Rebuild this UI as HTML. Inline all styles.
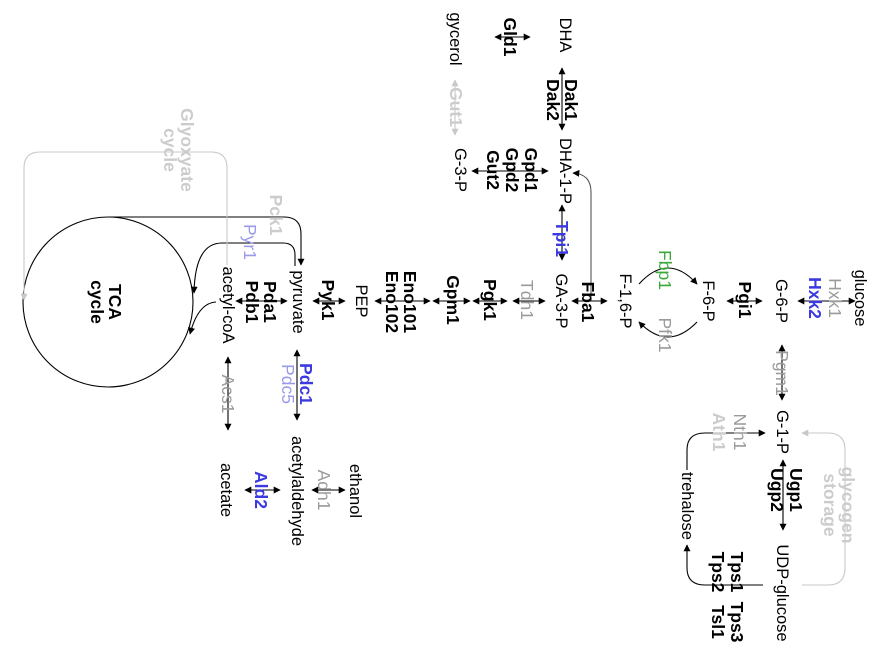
<!DOCTYPE html>
<html><head><meta charset="utf-8"><style>
html,body{margin:0;padding:0;background:#fff;}
svg{display:block;}
text{font-family:"Liberation Sans",Arial,sans-serif;font-size:16.5px;text-anchor:middle;dominant-baseline:central;fill:#000;}
.g{font-weight:bold;font-size:17.5px;}
.gr{fill:#9a9a9a;font-size:17.5px;}
.lg{fill:#cccccc;}
.bl{fill:#3a3ae0;}
.lb{fill:#9a9ae8;font-size:17.5px;}
.gn{fill:#3aa83a;font-size:17.5px;}
line,path{stroke:#000;stroke-width:1.1;fill:none;}
</style></head><body>
<svg width="888" height="657" viewBox="0 0 888 657" xmlns="http://www.w3.org/2000/svg">
<defs>
<marker id="a" viewBox="0 0 10 10" refX="9" refY="5" markerWidth="7" markerHeight="7" orient="auto-start-reverse" markerUnits="userSpaceOnUse"><path d="M0,0 L10,5 L0,10z" style="fill:#000;stroke:none"/></marker>
<marker id="ag" viewBox="0 0 10 10" refX="9" refY="5" markerWidth="7" markerHeight="7" orient="auto-start-reverse" markerUnits="userSpaceOnUse"><path d="M0,0 L10,5 L0,10z" style="fill:#c8c8c8;stroke:none"/></marker>
</defs>

<line x1="798" y1="301" x2="855" y2="301" marker-start="url(#a)" marker-end="url(#a)"/>
<line x1="727" y1="301" x2="762" y2="301" marker-start="url(#a)" marker-end="url(#a)"/>
<line x1="572" y1="301" x2="607" y2="301" marker-start="url(#a)" marker-end="url(#a)"/>
<line x1="513" y1="301" x2="545" y2="301" marker-start="url(#a)" marker-end="url(#a)"/>
<line x1="473" y1="301" x2="507" y2="301" marker-start="url(#a)" marker-end="url(#a)"/>
<line x1="433" y1="301" x2="470" y2="301" marker-start="url(#a)" marker-end="url(#a)"/>
<line x1="375" y1="301" x2="430" y2="301" marker-start="url(#a)" marker-end="url(#a)"/>
<line x1="313" y1="301" x2="345" y2="301" marker-start="url(#a)" marker-end="url(#a)"/>
<line x1="236" y1="301" x2="287" y2="301" marker-start="url(#a)" marker-end="url(#a)"/>

<path d="M639,284 Q668,252 697,284" marker-end="url(#a)"/>
<path d="M697,322 Q668,352 639,322" marker-end="url(#a)"/>

<path d="M591,300 L591,192 Q591,174 573,173" style="stroke:#555" marker-end="url(#a)"/>

<line x1="562" y1="68" x2="562" y2="130" marker-start="url(#a)" marker-end="url(#a)"/>
<line x1="495" y1="37" x2="530" y2="37" marker-start="url(#a)" marker-end="url(#a)"/>
<line x1="472" y1="171" x2="548" y2="171" marker-start="url(#a)" marker-end="url(#a)"/>
<line x1="455" y1="80" x2="455" y2="135" style="stroke:#c8c8c8" marker-start="url(#ag)" marker-end="url(#ag)"/>
<line x1="562" y1="205" x2="562" y2="260" marker-start="url(#a)" marker-end="url(#a)"/>

<line x1="297" y1="350" x2="297" y2="420" marker-start="url(#a)" marker-end="url(#a)"/>
<line x1="228" y1="357" x2="228" y2="430" marker-start="url(#a)" marker-end="url(#a)"/>
<line x1="312" y1="490" x2="345" y2="490" marker-start="url(#a)" marker-end="url(#a)"/>
<line x1="245" y1="490" x2="280" y2="490" marker-start="url(#a)" marker-end="url(#a)"/>

<line x1="782" y1="345" x2="782" y2="400" marker-start="url(#a)" marker-end="url(#a)"/>
<line x1="783" y1="460" x2="783" y2="530" marker-start="url(#a)" marker-end="url(#a)"/>
<path d="M687,470 L687,450 Q687,433 705,433 L765,433" marker-end="url(#a)"/>
<path d="M763,585 L705,585 Q687,585 687,568 L687,545" marker-end="url(#a)"/>
<path d="M802,585 L828,585 Q845,585 845,568 L845,450 Q845,433 828,433 L802,433" style="stroke:#c8c8c8" marker-end="url(#ag)"/>

<circle cx="108" cy="302" r="85" style="fill:none;stroke:#000;stroke-width:1.1"/>
<path d="M108,217 L284,217 Q301,217 301,234 L301,265" marker-end="url(#a)"/>
<path d="M295,266 L295,255 Q295,243 283,243 L222,243 Q195,243 194,293" marker-end="url(#a)"/>
<path d="M216,302 Q198,303 190,334" marker-end="url(#a)"/>
<path d="M227,265 L227,168 Q227,152 211,152 L40,152 Q24,152 24,168 L24,300" style="stroke:#c8c8c8" marker-end="url(#ag)"/>

<text x="860" y="298" transform="rotate(90 860 298)">glucose</text>
<text x="781" y="301" transform="rotate(90 781 301)">G-6-P</text>
<text x="708" y="301" transform="rotate(90 708 301)">F-6-P</text>
<text x="625" y="301" transform="rotate(90 625 301)">F-1,6-P</text>
<text x="561" y="301" transform="rotate(90 561 301)">GA-3-P</text>
<text x="361" y="301" transform="rotate(90 361 301)">PEP</text>
<text x="298" y="302" transform="rotate(90 298 302)">pyruvate</text>
<text x="228" y="305" transform="rotate(90 228 305)">acetyl-coA</text>
<text x="297" y="491" transform="rotate(90 297 491)">acetylaldehyde</text>
<text x="355" y="491" transform="rotate(90 355 491)">ethanol</text>
<text x="226" y="490" transform="rotate(90 226 490)">acetate</text>
<text x="565" y="35" transform="rotate(90 565 35)">DHA</text>
<text x="455" y="39" transform="rotate(90 455 39)">gycerol</text>
<text x="565" y="171" transform="rotate(90 565 171)">DHA-1-P</text>
<text x="460" y="170" transform="rotate(90 460 170)">G-3-P</text>
<text x="782" y="432" transform="rotate(90 782 432)">G-1-P</text>
<text x="687" y="506" transform="rotate(90 687 506)">trehalose</text>
<text x="782" y="593" transform="rotate(90 782 593)">UDP-glucose</text>

<text x="835" y="298" transform="rotate(90 835 298)" class="gr">Hxk1</text>
<text x="815" y="298" transform="rotate(90 815 298)" class="g bl">Hxk2</text>
<text x="745" y="300" transform="rotate(90 745 300)" class="g">Pgi1</text>
<text x="665" y="270" transform="rotate(90 665 270)" class="gn">Fbp1</text>
<text x="665" y="335" transform="rotate(90 665 335)" class="gr">Pfk1</text>
<text x="588" y="302" transform="rotate(90 588 302)" class="g">Fba1</text>
<text x="527" y="300" transform="rotate(90 527 300)" class="gr">Tdh1</text>
<text x="490" y="300" transform="rotate(90 490 300)" class="g">Pgk1</text>
<text x="453" y="300" transform="rotate(90 453 300)" class="g">Gpm1</text>
<text x="410" y="302" transform="rotate(90 410 302)" class="g">Eno101</text>
<text x="392" y="302" transform="rotate(90 392 302)" class="g">Eno102</text>
<text x="328" y="300" transform="rotate(90 328 300)" class="g">Pyk1</text>
<text x="270" y="302" transform="rotate(90 270 302)" class="g">Pda1</text>
<text x="252" y="302" transform="rotate(90 252 302)" class="g">Pdb1</text>
<text x="306" y="384" transform="rotate(90 306 384)" class="g bl">Pdc1</text>
<text x="288" y="384" transform="rotate(90 288 384)" class="lb">Pdc5</text>
<text x="228" y="394" transform="rotate(90 228 394)" class="gr">Acs1</text>
<text x="324" y="490" transform="rotate(90 324 490)" class="gr">Adh1</text>
<text x="261" y="490" transform="rotate(90 261 490)" class="g bl">Ald2</text>
<text x="276" y="215" transform="rotate(90 276 215)" class="g lg">Pck1</text>
<text x="250" y="242" transform="rotate(90 250 242)" class="lb">Pyr1</text>
<text x="187" y="150" transform="rotate(90 187 150)" class="g lg">Glyoxyate</text>
<text x="170" y="150" transform="rotate(90 170 150)" class="g lg">cycle</text>
<text x="115" y="302" transform="rotate(90 115 302)" class="g">TCA</text>
<text x="97" y="302" transform="rotate(90 97 302)" class="g">cycle</text>
<text x="510" y="37" transform="rotate(90 510 37)" class="g">Gld1</text>
<text x="571" y="100" transform="rotate(90 571 100)" class="g">Dak1</text>
<text x="553" y="100" transform="rotate(90 553 100)" class="g">Dak2</text>
<text x="531" y="170" transform="rotate(90 531 170)" class="g">Gpd1</text>
<text x="512" y="170" transform="rotate(90 512 170)" class="g">Gpd2</text>
<text x="493" y="170" transform="rotate(90 493 170)" class="g">Gut2</text>
<text x="456" y="107" transform="rotate(90 456 107)" class="g lg">Gut1</text>
<text x="562" y="239" transform="rotate(90 562 239)" class="g bl">Tpi1</text>
<text x="782" y="373" transform="rotate(90 782 373)" class="gr">Pgm1</text>
<text x="740" y="432" transform="rotate(90 740 432)" class="gr">Nth1</text>
<text x="719" y="432" transform="rotate(90 719 432)" class="g lg">Ath1</text>
<text x="796" y="490" transform="rotate(90 796 490)" class="g">Ugp1</text>
<text x="777" y="490" transform="rotate(90 777 490)" class="g">Ugp2</text>
<text x="737" y="572" transform="rotate(90 737 572)" class="g">Tps1</text>
<text x="718" y="572" transform="rotate(90 718 572)" class="g">Tps2</text>
<text x="737" y="622" transform="rotate(90 737 622)" class="g">Tps3</text>
<text x="718" y="622" transform="rotate(90 718 622)" class="g">Tsl1</text>
<text x="848" y="505" transform="rotate(90 848 505)" class="g lg">glycogen</text>
<text x="830" y="505" transform="rotate(90 830 505)" class="g lg">storage</text>
</svg>
</body></html>
